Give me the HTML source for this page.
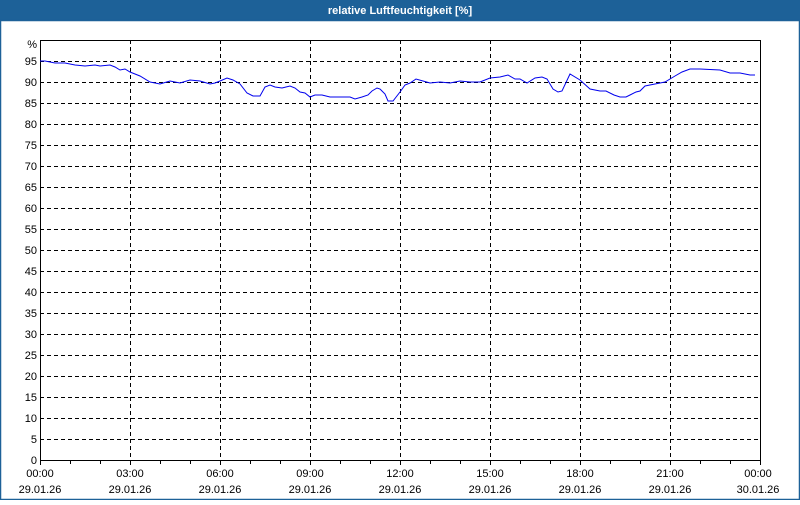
<!DOCTYPE html>
<html><head><meta charset="utf-8"><style>
html,body{margin:0;padding:0;background:#fff}
body{width:800px;height:500px;overflow:hidden;font-family:"Liberation Sans","DejaVu Sans",sans-serif}
</style></head><body>
<svg width="800" height="500" xmlns="http://www.w3.org/2000/svg" font-family="Liberation Sans, DejaVu Sans, sans-serif">
<rect x="0" y="0" width="800" height="500" fill="#fff"/>
<rect x="0" y="0" width="800" height="21" fill="#1d6198"/>
<rect x="0.5" y="20.5" width="799" height="479" fill="none" stroke="#1d6198" stroke-width="1.5"/>
<text x="400" y="14" text-anchor="middle" fill="#fff" font-size="11" font-weight="bold">relative Luftfeuchtigkeit [%]</text>
<g stroke="#000" stroke-width="1" stroke-dasharray="4,3" fill="none">
<path d="M40 61.5H760M40 82.5H760M40 103.5H760M40 124.5H760M40 145.5H760M40 166.5H760M40 187.5H760M40 208.5H760M40 229.5H760M40 250.5H760M40 271.5H760M40 292.5H760M40 313.5H760M40 334.5H760M40 355.5H760M40 376.5H760M40 397.5H760M40 418.5H760M40 439.5H760"/>
<path d="M130.5 40V460M220.5 40V460M310.5 40V460M400.5 40V460M490.5 40V460M580.5 40V460M670.5 40V460"/>
</g>
<rect x="40.5" y="40.5" width="720" height="420" fill="none" stroke="#000"/>
<g stroke="#000">
<path d="M40.5 460v5M70.5 460v4M100.5 460v4M130.5 460v5M160.5 460v4M190.5 460v4M220.5 460v5M250.5 460v4M280.5 460v4M310.5 460v5M340.5 460v4M370.5 460v4M400.5 460v5M430.5 460v4M460.5 460v4M490.5 460v5M520.5 460v4M550.5 460v4M580.5 460v5M610.5 460v4M640.5 460v4M670.5 460v5M700.5 460v4M730.5 460v4M760.5 460v5"/>
</g>
<g font-size="11" fill="#000" text-anchor="end">
<text x="37" y="48">%</text>
<text x="37" y="65">95</text><text x="37" y="86">90</text><text x="37" y="107">85</text><text x="37" y="128">80</text><text x="37" y="149">75</text><text x="37" y="170">70</text><text x="37" y="191">65</text><text x="37" y="212">60</text><text x="37" y="233">55</text><text x="37" y="254">50</text><text x="37" y="275">45</text><text x="37" y="296">40</text><text x="37" y="317">35</text><text x="37" y="338">30</text><text x="37" y="359">25</text><text x="37" y="380">20</text><text x="37" y="401">15</text><text x="37" y="422">10</text><text x="37" y="443">5</text><text x="37" y="464">0</text>
</g>
<g font-size="11" fill="#000" text-anchor="middle">
<text x="40" y="477">00:00</text><text x="130" y="477">03:00</text><text x="220" y="477">06:00</text><text x="310" y="477">09:00</text><text x="400" y="477">12:00</text><text x="490" y="477">15:00</text><text x="580" y="477">18:00</text><text x="670" y="477">21:00</text><text x="758" y="477">00:00</text>
<text x="40" y="493">29.01.26</text><text x="130" y="493">29.01.26</text><text x="220" y="493">29.01.26</text><text x="310" y="493">29.01.26</text><text x="400" y="493">29.01.26</text><text x="490" y="493">29.01.26</text><text x="580" y="493">29.01.26</text><text x="670" y="493">29.01.26</text><text x="758" y="493">30.01.26</text>
</g>
<polyline fill="none" stroke="#0000ee" stroke-width="1" points="40,61 45,61 50,62 55,63 65,63 75,65 85,66 95,65 100,66 110,65 115,67 120,70 125,69 130,72 140,76 150,82 160,84 170,81 180,83 190,80 200,81 210,84 215,83 220,81 227,78 233,80 240,84 247,93 253,96 260,96 265,87 270,85 275,87 282,88 290,86 295,88 300,92 305,93 310,97 315,95 322,95 330,97 340,97 350,97 355,99 362,97 368,95 372,91 377,88 380,89 385,94 388,101 393,101 400,92 405,85 410,83 416,79 423,81 430,83 440,82 450,83 460,81 470,82 480,82 490,78 500,77 508,75 515,79 520,79 527,83 535,78 542,77 547,79 553,89 558,92 562,91 570,74 580,80 590,89 600,91 606,91 614,95 620,97 626,97 630,95 636,92 640,91 645,86 655,84 665,82 670,79 675,76 682,72 690,69 700,69 720,70 730,73 740,73 750,75 755,75"/>
</svg>
</body></html>
